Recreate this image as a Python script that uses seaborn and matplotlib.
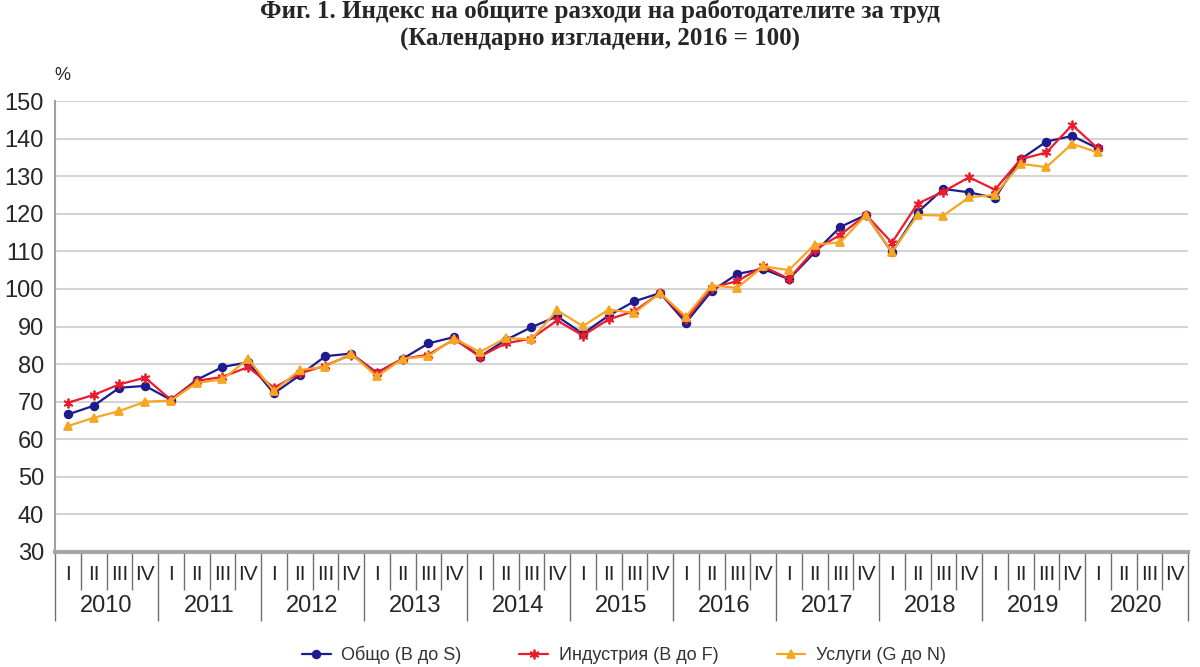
import numpy as np
import pandas as pd
import matplotlib
matplotlib.use('Agg')
import matplotlib.pyplot as plt
import matplotlib.transforms as mtransforms
from matplotlib.lines import Line2D
import seaborn as sns

# --- Data (calendar adjusted labour cost index, 2016 = 100) ---
years = ['2010', '2011', '2012', '2013', '2014', '2015', '2016', '2017', '2018', '2019', '2020']
quarters = ['I', 'II', 'III', 'IV']

total = [66.6, 68.9, 73.7, 74.2,
         70.5, 75.8, 79.2, 80.5,
         72.2, 77.0, 82.1, 82.8,
         77.7, 81.4, 85.5, 87.2,
         82.0, 86.4, 89.8, 92.7,
         88.1, 92.9, 96.7, 98.9,
         91.0, 99.4, 104.0, 105.3,
         102.6, 109.7, 116.5, 119.7,
         109.7, 120.4, 126.6, 125.7,
         124.2, 134.5, 139.2, 140.7,
         137.4, np.nan, np.nan, np.nan]

industry = [69.7, 71.8, 74.6, 76.4,
            70.5, 75.5, 76.6, 79.2,
            73.7, 77.5, 79.6, 82.5,
            77.7, 81.4, 82.5, 86.6,
            82.0, 85.5, 86.8, 91.6,
            87.6, 91.9, 94.1, 98.9,
            91.9, 100.3, 102.1, 106.0,
            102.7, 110.4, 114.4, 119.7,
            112.3, 122.7, 125.9, 129.7,
            126.4, 134.5, 136.3, 143.6,
            137.4, np.nan, np.nan, np.nan]

services = [63.5, 65.7, 67.5, 70.0,
            70.3, 75.0, 75.9, 81.4,
            72.8, 78.4, 79.3, 82.8,
            76.7, 81.4, 82.1, 86.8,
            83.2, 86.9, 86.6, 94.3,
            90.1, 94.5, 93.6, 98.9,
            92.6, 100.9, 100.3, 106.0,
            105.0, 111.8, 112.4, 119.7,
            109.7, 119.7, 119.5, 124.4,
            125.0, 133.3, 132.4, 138.6,
            136.3, np.nan, np.nan, np.nan]

series_names = ['Общо (B до S)', 'Индустрия (B до F)', 'Услуги (G до N)']
colors = ['#1c1c8f', '#ec1c2c', '#f5a623']
markers = ['o', (6, 2, 0), '^']
marker_sizes = [5.5, 7, 6]

n = len(years) * len(quarters)
pos = np.arange(n)

# --- Plot ---
sns.set_style('white')
plt.rcParams['font.family'] = ['Liberation Sans', 'DejaVu Sans']

fig = plt.figure(figsize=(12, 6.67), dpi=100)
ax = fig.add_axes([55 / 1200, 1 - 552 / 667, 1133 / 1200, 451 / 667])

# one lineplot per series (filled and line markers can't be mixed in one call)
for name, vals, c, m, ms in zip(series_names, [total, industry, services],
                                colors, markers, marker_sizes):
    d = pd.DataFrame({'pos': pos, 'value': vals}).dropna()
    sns.lineplot(data=d, x='pos', y='value', color=c, marker=m,
                 markersize=ms, linewidth=1.6, markeredgewidth=1.3,
                 markeredgecolor=c, ax=ax)

# y axis
ax.set_ylim(30, 150)
ax.set_yticks(np.arange(30, 151, 10))
ax.tick_params(axis='y', labelsize=17, length=5, color='#a0a0a0', pad=3)
ax.grid(axis='y', color='#d4d4d4', linewidth=1.5)
ax.set_axisbelow(True)
ax.set_ylabel('')
ax.text(62 / 1200, 1 - 75 / 667, '%', transform=fig.transFigure,
        fontsize=13, ha='center', va='center')

# x axis: quarter separators (minor) and year separators (major)
ax.set_xlim(-0.5, n - 0.5)
ax.set_xticks(np.arange(-0.5, n, 4))
ax.set_xticks(np.arange(-0.5, n + 0.5, 1), minor=True)
ax.set_xticklabels([])
ax.tick_params(axis='x', which='major', bottom=True, length=50, width=1, color='#707070')
ax.tick_params(axis='x', which='minor', bottom=True, length=27, width=1, color='#707070')
ax.set_xlabel('')

for side in ['top', 'right']:
    ax.spines[side].set_visible(False)
ax.spines['left'].set_color('#a0a0a0')
ax.spines['left'].set_linewidth(1.5)
ax.spines['bottom'].set_color('#a6a6a6')
ax.spines['bottom'].set_linewidth(3)

# quarter and year labels under the axis
trans = mtransforms.blended_transform_factory(ax.transData, fig.transFigure)
narrow = ['Liberation Sans Narrow', 'Liberation Sans', 'DejaVu Sans']
for i in range(n):
    ax.text(pos[i], 1 - 574 / 667, quarters[i % 4], transform=trans,
            ha='center', va='center', fontsize=15, family=narrow)
for j, yr in enumerate(years):
    ax.text(j * 4 + 1.5, 1 - 606 / 667, yr, transform=trans,
            ha='center', va='center', fontsize=17, family=narrow)

# title
serif = ['Liberation Serif', 'DejaVu Serif']
fig.text(0.5, 1 - 11 / 667, 'Фиг. 1. Индекс на общите разходи на работодателите за труд',
         ha='center', va='center', fontsize=18, fontweight='bold', family=serif)
fig.text(0.5, 1 - 39 / 667, '(Календарно изгладени, 2016 = 100)',
         ha='center', va='center', fontsize=18, fontweight='bold', family=serif)

# legend at the bottom edge
handles = [Line2D([0], [0], color=c, marker=m, markersize=ms, linewidth=1.6,
                  markeredgewidth=1.3)
           for c, m, ms in zip(colors, markers, marker_sizes)]
fig.legend(handles, series_names, loc='center', bbox_to_anchor=(0.52, 1 - 655 / 667),
           ncol=3, frameon=False, fontsize=13, handlelength=1.6,
           handletextpad=0.6, columnspacing=3.2, labelcolor='#333333')

plt.savefig('out.png', dpi=100)
